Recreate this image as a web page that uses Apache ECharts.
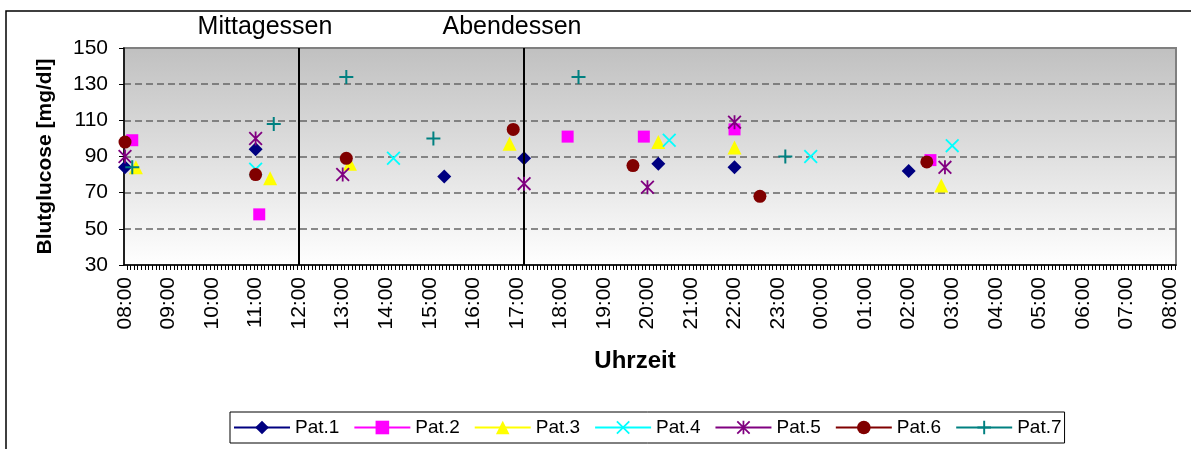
<!DOCTYPE html>
<html>
<head>
<meta charset="utf-8">
<script src="https://cdn.jsdelivr.net/npm/echarts@6/dist/echarts.min.js"></script>
<style>
  html, body { margin: 0; padding: 0; background: #fff; }
  #chart { width: 1191px; height: 449px; }
</style>
</head>
<body>
<div id="chart"></div>
<script>
// Blood glucose readings over one day (08:00 to 08:00), seven patients
const patientNames = ['Pat.1', 'Pat.2', 'Pat.3', 'Pat.4', 'Pat.5', 'Pat.6', 'Pat.7'];

const pat1Times  = ['08:00', '11:00', '15:20', '17:10', '20:15', '22:00', '02:00'];
const pat1Values = [84, 94, 79, 89, 86, 84, 82];

const pat2Times  = ['08:10', '11:05', '18:10', '19:55', '22:00', '02:30'];
const pat2Values = [99, 58, 101, 101, 105, 88];

const pat3Times  = ['08:15', '11:20', '13:10', '16:50', '20:15', '22:00', '02:45'];
const pat3Values = [84, 78, 86, 97, 98, 95, 74];

const pat4Times  = ['11:00', '14:10', '20:30', '23:45', '03:00'];
const pat4Values = [83, 89, 99, 90, 96];

const pat5Times  = ['08:00', '11:00', '13:00', '17:10', '20:00', '22:00', '02:50'];
const pat5Values = [90, 100, 80, 75, 73, 109, 84];

const pat6Times  = ['08:00', '11:00', '13:05', '16:55', '19:40', '22:35', '02:25'];
const pat6Values = [98, 80, 89, 105, 85, 68, 87];

const pat7Times  = ['08:10', '11:25', '13:05', '15:05', '18:25', '23:10'];
const pat7Values = [84, 108, 134, 100, 134, 90];

const hourLabels = ['08:00', '09:00', '10:00', '11:00', '12:00', '13:00', '14:00', '15:00',
  '16:00', '17:00', '18:00', '19:00', '20:00', '21:00', '22:00', '23:00', '00:00', '01:00',
  '02:00', '03:00', '04:00', '05:00', '06:00', '07:00', '08:00'];

const yTicks = [30, 50, 70, 90, 110, 130, 150];

const mealNames = ['Mittagessen', 'Abendessen'];
const mealTimes = ['12:00', '17:10'];

// "HH:MM" -> hours on a continuous axis; times before 08:00 belong to the next day
function toHours(t) {
  const [h, m] = t.split(':').map(Number);
  let v = h + m / 60;
  if (v < 8) v += 24;
  return v;
}

const FONT = '"Liberation Sans", Arial, sans-serif';

// Stroke-like marker shapes as filled outlines
const SYM_X = 'path://M-6.29,-7.71L7.71,6.29L6.29,7.71L-7.71,-6.29ZM-7.71,6.29L6.29,-7.71L7.71,-6.29L-6.29,7.71Z';
const SYM_STAR = 'path://M-6.29,-7.71L7.71,6.29L6.29,7.71L-7.71,-6.29ZM-7.71,6.29L6.29,-7.71L7.71,-6.29L-6.29,7.71ZM-1,-7.71L1,-7.71L1,7.71L-1,7.71Z';
const SYM_PLUS = 'path://M-1,-7L1,-7L1,-1L7,-1L7,1L1,1L1,7L-1,7L-1,1L-7,1L-7,-1L-1,-1Z';

const seriesDefs = [
  { times: pat1Times, values: pat1Values, color: '#000080', symbol: 'diamond',  size: 14 },
  { times: pat2Times, values: pat2Values, color: '#FF00FF', symbol: 'rect',     size: 12 },
  { times: pat3Times, values: pat3Values, color: '#FFFF00', symbol: 'triangle', size: 14 },
  { times: pat4Times, values: pat4Values, color: '#00FFFF', symbol: SYM_X,      size: 14 },
  { times: pat5Times, values: pat5Values, color: '#800080', symbol: SYM_STAR,   size: 14 },
  { times: pat6Times, values: pat6Values, color: '#800000', symbol: 'circle',   size: 13 },
  { times: pat7Times, values: pat7Values, color: '#008080', symbol: SYM_PLUS,   size: 14 }
];

// 5-minute tick marks along the time axis
const AX_MIN = 7.977, AX_MAX = 32.14;
const fiveMinTicks = [];
for (let k = 0; ; k++) {
  const v = 8 + 2.5 / 60 + k * 5 / 60;
  if (v > AX_MAX) break;
  fiveMinTicks.push(v);
}
const hourTicks = hourLabels.map((_, i) => 8 + i);

const series = seriesDefs.map((d, i) => {
  const s = {
    name: patientNames[i],
    type: 'line',
    data: d.times.map((t, j) => [toHours(t), d.values[j]]),
    symbol: d.symbol,
    symbolSize: d.size,
    showSymbol: true,
    itemStyle: { color: d.color },
    lineStyle: { color: d.color, width: 2, opacity: 0 },
    emphasis: { disabled: true },
    z: 3 + i
  };
  if (i === 0) {
    s.markLine = {
      silent: true,
      symbol: ['none', 'none'],
      label: { show: false },
      lineStyle: { color: '#000', width: 2, type: 'solid' },
      data: mealTimes.map(t => ({ xAxis: toHours(t) }))
    };
  }
  return s;
});

const chart = echarts.init(document.getElementById('chart'));
chart.setOption({
  animation: false,
  textStyle: { fontFamily: FONT },
  grid: {
    left: 124, right: 15, top: 48, bottom: 184,
    show: true,
    borderColor: '#808080', borderWidth: 2,
    backgroundColor: new echarts.graphic.LinearGradient(0, 0, 0, 1, [
      { offset: 0, color: '#c0c0c0' },
      { offset: 1, color: '#ffffff' }
    ])
  },
  xAxis: {
    type: 'value',
    min: AX_MIN, max: AX_MAX,
    name: 'Uhrzeit',
    nameLocation: 'middle',
    nameGap: 84,
    nameTextStyle: { fontFamily: FONT, fontSize: 24, fontWeight: 'bold', color: '#000', padding: [0, 30, 0, 0] },
    axisLine: { show: true, onZero: false, lineStyle: { color: '#000', width: 1.5 } },
    axisTick: { show: true, customValues: fiveMinTicks, length: 5, lineStyle: { color: '#000', width: 1 } },
    axisLabel: {
      customValues: hourTicks,
      rotate: 90, margin: 12,
      fontFamily: FONT, fontSize: 21, color: '#000',
      formatter: v => hourLabels[Math.round(v - 8)]
    },
    splitLine: { show: false }
  },
  yAxis: {
    type: 'value',
    min: yTicks[0], max: yTicks[yTicks.length - 1], interval: 20,
    name: 'Blutglucose [mg/dl]',
    nameLocation: 'middle',
    nameGap: 68,
    nameTextStyle: { fontFamily: FONT, fontSize: 21, fontWeight: 'bold', color: '#000' },
    axisLine: { show: true, lineStyle: { color: '#000', width: 1.5 } },
    axisTick: { show: true, length: 5, lineStyle: { color: '#000' } },
    axisLabel: { margin: 16, fontFamily: FONT, fontSize: 21, color: '#000' },
    splitLine: {
      show: true, showMinLine: false, showMaxLine: false,
      lineStyle: { color: '#666', width: 1.5, type: [7, 4] }
    }
  },
  legend: {
    data: patientNames,
    left: 230, top: 412,
    padding: [6, 3],
    itemWidth: 56, itemHeight: 17, itemGap: 14,
    borderColor: '#000', borderWidth: 1,
    backgroundColor: '#fff',
    selectedMode: false,
    lineStyle: { opacity: 1, width: 2 },
    textStyle: { fontFamily: FONT, fontSize: 19, color: '#000' }
  },
  graphic: [
    {
      type: 'rect', silent: true, z: 0,
      shape: { x: 6, y: 11, width: 1220, height: 480 },
      style: { fill: 'none', stroke: '#000', lineWidth: 1.5 }
    },
    {
      type: 'text', silent: true, x: 265, y: 27,
      style: { text: mealNames[0], font: '25px ' + FONT, fill: '#000', align: 'center', verticalAlign: 'middle' }
    },
    {
      type: 'text', silent: true, x: 512, y: 27,
      style: { text: mealNames[1], font: '25px ' + FONT, fill: '#000', align: 'center', verticalAlign: 'middle' }
    }
  ],
  series: series
});
</script>
</body>
</html>
